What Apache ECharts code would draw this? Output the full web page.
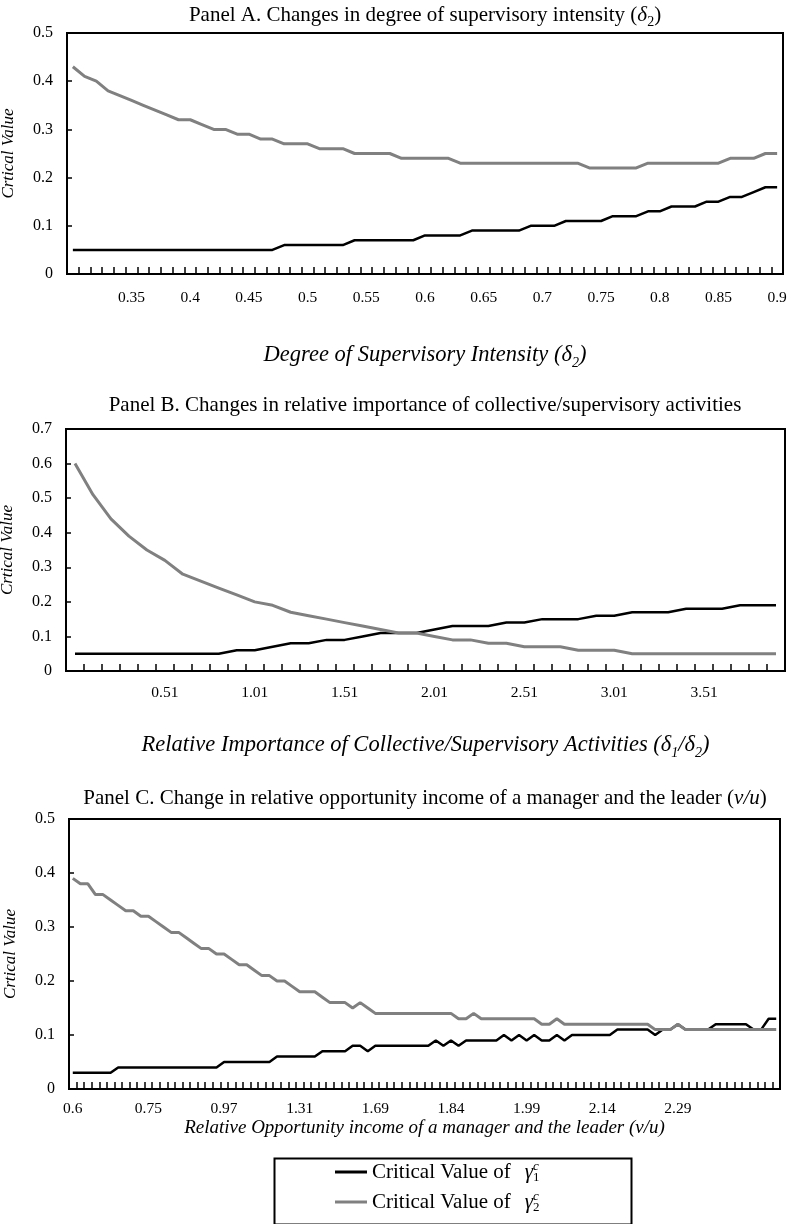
<!DOCTYPE html>
<html>
<head>
<meta charset="utf-8">
<script src="https://cdn.jsdelivr.net/npm/echarts/dist/echarts.min.js"></script>
<style>
  html, body { margin: 0; padding: 0; background: #fff; }
  #main { width: 794px; height: 1224px; }
</style>
</head>
<body>
<div id="main"></div>
<script>
var FONT = "'Liberation Serif', 'Times New Roman', serif";

// Panel A: degree of supervisory intensity, 0.30 .. 0.90 step 0.01
var startA = 0.30, stepA = 0.01;
var gammaA1 = [0.05,0.05,0.05,0.05,0.05,0.05,0.05,0.05,0.05,0.05,0.05,0.05,0.05,0.05,0.05,0.05,0.05,0.05,
  0.06,0.06,0.06,0.06,0.06,0.06,
  0.07,0.07,0.07,0.07,0.07,0.07,
  0.08,0.08,0.08,0.08,
  0.09,0.09,0.09,0.09,0.09,
  0.10,0.10,0.10,
  0.11,0.11,0.11,0.11,
  0.12,0.12,0.12,
  0.13,0.13,
  0.14,0.14,0.14,
  0.15,0.15,
  0.16,0.16,
  0.17,0.18,0.18];
var gammaA2 = [0.43,0.41,0.40,0.38,0.37,0.36,0.35,0.34,0.33,0.32,0.32,0.31,0.30,0.30,0.29,0.29,0.28,0.28,
  0.27,0.27,0.27,
  0.26,0.26,0.26,
  0.25,0.25,0.25,0.25,
  0.24,0.24,0.24,0.24,0.24,
  0.23,0.23,0.23,0.23,0.23,0.23,0.23,0.23,0.23,0.23,0.23,
  0.22,0.22,0.22,0.22,0.22,
  0.23,0.23,0.23,0.23,0.23,0.23,0.23,
  0.24,0.24,0.24,
  0.25,0.25];

// Panel B: relative importance d1/d2, 0.01 .. 3.91 step 0.1
var startB = 0.01, stepB = 0.1;
var gammaB1 = [0.05,0.05,0.05,0.05,0.05,0.05,0.05,0.05,0.05,
  0.06,0.06,0.07,0.08,0.08,0.09,0.09,0.10,0.11,0.11,0.11,0.12,
  0.13,0.13,0.13,0.14,0.14,0.15,0.15,0.15,0.16,0.16,
  0.17,0.17,0.17,0.18,0.18,0.18,0.19,0.19,0.19];
var gammaB2 = [0.60,0.51,0.44,0.39,0.35,0.32,0.28,0.26,0.24,0.22,0.20,0.19,0.17,0.16,0.15,0.14,0.13,0.12,0.11,0.11,
  0.10,0.09,0.09,0.08,0.08,0.07,0.07,0.07,0.06,0.06,0.06,
  0.05,0.05,0.05,0.05,0.05,0.05,0.05,0.05,0.05];

// Panel C: relative opportunity income v/u (uneven categories, every 10th labelled)
var tickLabelsC = ['0.6', '0.75', '0.97', '1.31', '1.69', '1.84', '1.99', '2.14', '2.29'];
var gammaC1 = [0.03,0.03,0.03,0.03,0.03,0.03,
  0.04,0.04,0.04,0.04,0.04,0.04,0.04,0.04,0.04,0.04,0.04,0.04,0.04,0.04,
  0.05,0.05,0.05,0.05,0.05,0.05,0.05,
  0.06,0.06,0.06,0.06,0.06,0.06,
  0.07,0.07,0.07,0.07,
  0.08,0.08,0.07,
  0.08,0.08,0.08,0.08,0.08,0.08,0.08,0.08,
  0.09,0.08,0.09,0.08,
  0.09,0.09,0.09,0.09,0.09,
  0.10,0.09,0.10,0.09,0.10,0.09,0.09,0.10,0.09,
  0.10,0.10,0.10,0.10,0.10,0.10,
  0.11,0.11,0.11,0.11,0.11,
  0.10,0.11,0.11,0.12,
  0.11,0.11,0.11,0.11,
  0.12,0.12,0.12,0.12,0.12,
  0.11,0.11,0.13,0.13];
var gammaC2 = [0.39,0.38,0.38,0.36,0.36,0.35,0.34,0.33,0.33,0.32,0.32,0.31,0.30,0.29,0.29,0.28,0.27,0.26,0.26,0.25,
  0.25,0.24,0.23,0.23,0.22,0.21,0.21,0.20,0.20,0.19,0.18,0.18,0.18,0.17,0.16,0.16,0.16,0.15,0.16,0.15,
  0.14,0.14,0.14,0.14,0.14,0.14,0.14,0.14,0.14,0.14,0.14,
  0.13,0.13,0.14,
  0.13,0.13,0.13,0.13,0.13,0.13,0.13,0.13,
  0.12,0.12,0.13,
  0.12,0.12,0.12,0.12,0.12,0.12,0.12,0.12,0.12,0.12,0.12,0.12,
  0.11,0.11,0.11,0.12,
  0.11,0.11,0.11,0.11,0.11,0.11,0.11,0.11,0.11,0.11,0.11,0.11,0.11];

var name1 = 'Critical Value of γ1c';
var name2 = 'Critical Value of γ2c';
var colors = ['#000000', '#808080'];

var catsA = gammaA1.map(function (v, i) { return String(+(startA + i * stepA).toFixed(2)); });
var catsB = gammaB1.map(function (v, i) { return String(+(startB + i * stepB).toFixed(2)); });
var catsC = gammaC1.map(function (v, i) { return (i % 10 === 0 && tickLabelsC[i / 10]) || ''; });

var subRich = {
  i: { fontFamily: FONT, fontSize: 21, fontStyle: 'italic', color: '#000' },
  s: { fontFamily: FONT, fontSize: 14, verticalAlign: 'bottom', color: '#000', padding: [0, 0, -3, 0] }
};
var subRichItalic = {
  s: { fontFamily: FONT, fontSize: 14, fontStyle: 'italic', verticalAlign: 'bottom', color: '#000', padding: [0, 0, -3, 0] }
};

function titleAt(text, top) {
  return {
    text: text, left: 425, top: top, textAlign: 'center', padding: 0,
    textStyle: { fontFamily: FONT, fontSize: 21, fontWeight: 'normal', color: '#000', rich: subRich }
  };
}

function xAxisFor(gridIndex, cats, showLabel, name, nameSize, nameGap, labelMargin) {
  return {
    gridIndex: gridIndex, type: 'category', data: cats, boundaryGap: true,
    axisLine: { show: true, lineStyle: { color: '#000', width: 2 } },
    axisTick: { show: true, interval: 0, inside: true, length: 7, lineStyle: { color: '#000', width: 1.5 } },
    axisLabel: { interval: showLabel, color: '#000', fontFamily: FONT, fontSize: 15.5, margin: labelMargin },
    splitLine: { show: false },
    name: name, nameLocation: 'middle', nameGap: nameGap,
    nameTextStyle: { fontFamily: FONT, fontSize: nameSize, fontStyle: 'italic', color: '#000', rich: subRichItalic }
  };
}

function yAxisFor(gridIndex, max) {
  return {
    gridIndex: gridIndex, type: 'value', min: 0, max: max, interval: 0.1,
    axisLine: { show: true, lineStyle: { color: '#000', width: 2 } },
    axisTick: { show: true, inside: true, length: 5, lineStyle: { color: '#000', width: 1.5 } },
    axisLabel: {
      color: '#000', fontFamily: FONT, fontSize: 16, margin: 14,
      formatter: function (v) { return String(+v.toFixed(1)); }
    },
    splitLine: { show: false },
    name: 'Crtical Value', nameLocation: 'middle', nameGap: 50,
    nameTextStyle: { fontFamily: FONT, fontSize: 17, fontStyle: 'italic', color: '#000' }
  };
}

function lineSeries(name, idx, data, color, width) {
  return {
    name: name, type: 'line', xAxisIndex: idx, yAxisIndex: idx, data: data,
    symbol: 'none', color: color, z: 3,
    lineStyle: { color: color, width: width },
    itemStyle: { color: color }
  };
}

function gridAt(left, top, width, height) {
  return {
    left: left, top: top, width: width, height: height, containLabel: false, outerBoundsMode: 'none',
    show: true, borderColor: '#000', borderWidth: 2, z: 0
  };
}

var myChart = echarts.init(document.getElementById('main'), null, { renderer: 'canvas' });

var option = {
  backgroundColor: '#fff',
  animation: false,
  title: [
    titleAt('Panel A. Changes in degree of supervisory intensity ({i|δ}{s|2})', 5),
    titleAt('Panel B. Changes in relative importance of collective/supervisory activities', 395),
    titleAt('Panel C. Change in relative opportunity income of a manager and the leader ({i|v/u})', 788)
  ],
  grid: [
    gridAt(67, 33, 716, 241),
    gridAt(66, 429, 719, 242),
    gridAt(69, 819, 711, 270)
  ],
  xAxis: [
    xAxisFor(0, catsA, function (i) { return i % 5 === 0 && i > 0; },
      'Degree of Supervisory Intensity (δ{s|2})', 22.5, 70, 16),
    xAxisFor(1, catsB, function (i) { return i % 5 === 0 && i > 0; },
      'Relative Importance of Collective/Supervisory Activities (δ{s|1}/δ{s|2})', 22.5, 63, 14),
    xAxisFor(2, catsC, function (i) { return i % 10 === 0; },
      'Relative Opportunity income of a manager and the leader (v/u)', 19, 29, 12)
  ],
  yAxis: [yAxisFor(0, 0.5), yAxisFor(1, 0.7), yAxisFor(2, 0.5)],
  legend: {
    orient: 'vertical', left: 335, top: 1160, icon: 'rect',
    itemWidth: 32, itemHeight: 3, itemGap: 6, padding: 0,
    data: [name1, name2],
    formatter: function (name) {
      var n = name === name1 ? '1' : '2';
      return '{t|Critical Value of}{g|γ}{sup|c}{sub|' + n + '}';
    },
    textStyle: {
      rich: {
        t: { fontFamily: FONT, fontSize: 21, color: '#000', lineHeight: 24 },
        g: { fontFamily: FONT, fontSize: 21, fontStyle: 'italic', color: '#000', lineHeight: 24, padding: [0, 0, 0, 14] },
        sup: { fontFamily: FONT, fontSize: 13, fontStyle: 'italic', color: '#000', verticalAlign: 'top', width: 0, lineHeight: 24 },
        sub: { fontFamily: FONT, fontSize: 13, color: '#000', verticalAlign: 'bottom', lineHeight: 24 }
      }
    }
  },
  graphic: [{
    type: 'rect', left: 272, top: 1156,
    shape: { width: 357, height: 66 },
    style: { fill: 'none', stroke: '#000', lineWidth: 2 }
  }],
  series: [
    lineSeries(name1, 0, gammaA1, colors[0], 2.5),
    lineSeries(name2, 0, gammaA2, colors[1], 3),
    lineSeries(name1, 1, gammaB1, colors[0], 2.5),
    lineSeries(name2, 1, gammaB2, colors[1], 3),
    lineSeries(name1, 2, gammaC1, colors[0], 2.5),
    lineSeries(name2, 2, gammaC2, colors[1], 3)
  ]
};
myChart.setOption(option);
</script>
</body>
</html>
